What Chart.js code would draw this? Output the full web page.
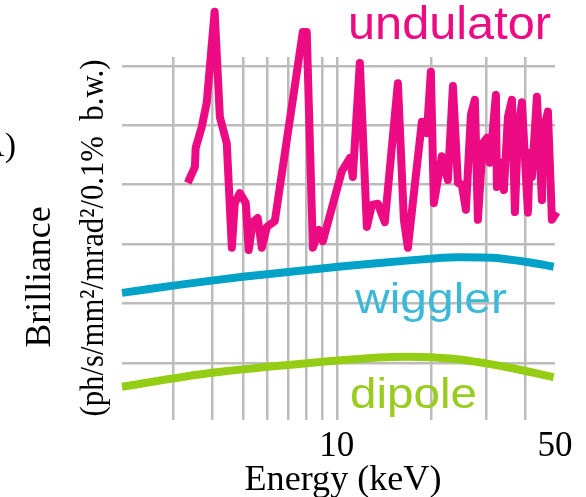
<!DOCTYPE html>
<html>
<head>
<meta charset="utf-8">
<script src="https://cdn.jsdelivr.net/npm/chart.js@4.4.1/dist/chart.umd.min.js"></script>
<style>
html,body{margin:0;padding:0;background:#fff;}
#c{display:block;}
</style>
</head>
<body>
<canvas id="c" width="586" height="497"></canvas>
<script>
// ---- data (energy in keV, brilliance in relative log units) ----
const undulatorEnergy = [3.33,3.51,3.53,3.69,3.83,4.06,4.22,4.44,4.61,4.71,4.89,5.11,5.22,5.38,5.58,5.75,5.97,6.33,7.78,8.01,8.38,8.76,9.02,10.38,11.01,11.25,11.85,12.48,12.95,13.54,14.25,15.69,16.40,16.89,17.78,18.73,19.43,20.01,20.46,21.70,22.69,23.55,24.43,25.15,25.91,26.89,27.69,28.31,29.37,30.26,30.93,32.33,32.57,33.30,34.30,35.33,36.39,37.20,38.03,39.17,40.95,41.56,42.17,43.75,45.40,45.73,47.45,48.88,50.6];
const undulatorBrilliance = [4.03,4.30,4.62,4.97,5.38,6.91,5.14,4.70,2.94,3.69,3.86,3.69,2.90,3.37,3.44,2.94,3.29,3.39,6.57,6.57,2.94,3.24,3.05,4.23,4.45,4.13,6.05,3.29,3.66,3.68,3.37,5.71,3.41,2.94,4.00,5.06,4.87,5.90,3.69,4.48,4.08,5.66,4.03,4.00,3.58,5.18,5.43,3.41,4.70,4.79,4.37,5.51,3.96,4.38,3.91,5.14,5.43,3.54,4.87,5.39,3.53,4.54,4.13,5.48,3.74,4.87,5.23,3.41,3.54];
const wigglerEnergy = [2.05,3.07,5.00,8.19,13.43,21.86,24.25,31.62,40.64,49.5];
const wigglerBrilliance = [2.18,2.31,2.45,2.57,2.68,2.77,2.78,2.77,2.70,2.62];
const dipoleEnergy = [2.05,3.92,8.19,15.12,23.55,35.85,49.5];
const dipoleBrilliance = [0.60,0.83,1.00,1.10,1.07,0.92,0.76];
const xGridValues = [3,4,5,6,7,8,9,10,20,30,40,50];
const xTickLabels = ['10','50'];
const yGridValues = [1,2,3,4,5,6];
const seriesNames = ['undulator','wiggler','dipole'];
const xTitle = 'Energy (keV)';
const yTitle1 = 'Brilliance';
const yTitle2 = '(ph/s/mm\u00B2/mrad\u00B2/0.1%  b.w.)';

const toXY = (xs, ys) => xs.map((x, i) => ({x: x, y: ys[i]}));

const gridColor = '#bcbcbc';
const SERIF = '"Liberation Serif", "Times New Roman", serif';
const SANS = '"Liberation Sans", Arial, sans-serif';

function fitText(ctx, text, font, x, y, targetW, color, rot, align) {
  ctx.save();
  ctx.font = font;
  ctx.fillStyle = color;
  ctx.textBaseline = 'alphabetic';
  const w = ctx.measureText(text).width;
  ctx.translate(x, y);
  if (rot) ctx.rotate(rot);
  ctx.scale(targetW / w, 1);
  ctx.textAlign = align || 'left';
  ctx.fillText(text, 0, 0);
  ctx.restore();
}

const labelsPlugin = {
  id: 'labels',
  afterDraw(chart) {
    const ctx = chart.ctx;
    fitText(ctx, seriesNames[0], '47px ' + SANS, 348, 39, 203, '#ED0B83');
    fitText(ctx, seriesNames[1], '43px ' + SANS, 355, 313, 152, '#3BB9D7');
    fitText(ctx, seriesNames[2], '43px ' + SANS, 350, 408, 127, '#99CC1F');
    fitText(ctx, xTitle, '35px ' + SERIF, 343, 490, 197, '#000', 0, 'center');
    fitText(ctx, yTitle1, '35px ' + SERIF, 50, 277, 141, '#000', -Math.PI / 2, 'center');
    fitText(ctx, yTitle2, '33px ' + SERIF, 103, 238, 357, '#000', -Math.PI / 2, 'center');
    ctx.save();
    ctx.font = '34px ' + SERIF;
    ctx.fillStyle = '#000';
    ctx.textAlign = 'right';
    ctx.fillText('A)', 16, 156);
    ctx.restore();
  }
};

new Chart(document.getElementById('c').getContext('2d'), {
  type: 'line',
  data: {
    datasets: [
      {label: seriesNames[0], data: toXY(undulatorEnergy, undulatorBrilliance), borderColor: '#ED0B83', borderWidth: 8, pointRadius: 0, tension: 0, borderJoinStyle: 'round', clip: false},
      {label: seriesNames[1], data: toXY(wigglerEnergy, wigglerBrilliance), borderColor: '#00A2C8', borderWidth: 8, pointRadius: 0, tension: 0.3, clip: false},
      {label: seriesNames[2], data: toXY(dipoleEnergy, dipoleBrilliance), borderColor: '#95CC14', borderWidth: 8, pointRadius: 0, tension: 0.3, clip: false}
    ]
  },
  options: {
    responsive: false,
    animation: false,
    devicePixelRatio: 1,
    layout: {padding: {top: 57, right: 31, left: 0, bottom: 0}},
    plugins: {legend: {display: false}, tooltip: {enabled: false}},
    scales: {
      x: {
        type: 'logarithmic', min: 2.05, max: 50,
        border: {display: false},
        afterBuildTicks: s => { s.ticks = xGridValues.map(v => ({value: v})); },
        afterFit: s => { s.height = 77; },
        grid: {
          color: c => (c.tick && c.tick.value === 50) ? 'rgba(0,0,0,0)' : gridColor,
          lineWidth: 2.5, drawTicks: false
        },
        ticks: {
          autoSkip: false, maxRotation: 0, minRotation: 0, padding: 6,
          font: {family: SERIF, size: 35}, color: '#000',
          callback: v => xTickLabels.includes(String(v)) ? String(v) : ''
        }
      },
      y: {
        min: 0.04, max: 6.15,
        border: {display: false},
        afterBuildTicks: s => { s.ticks = yGridValues.map(v => ({value: v})); },
        afterFit: s => { s.width = 122; },
        grid: {color: gridColor, lineWidth: 2.5, drawTicks: false},
        ticks: {display: false}
      }
    }
  },
  plugins: [labelsPlugin]
});
</script>
</body>
</html>
